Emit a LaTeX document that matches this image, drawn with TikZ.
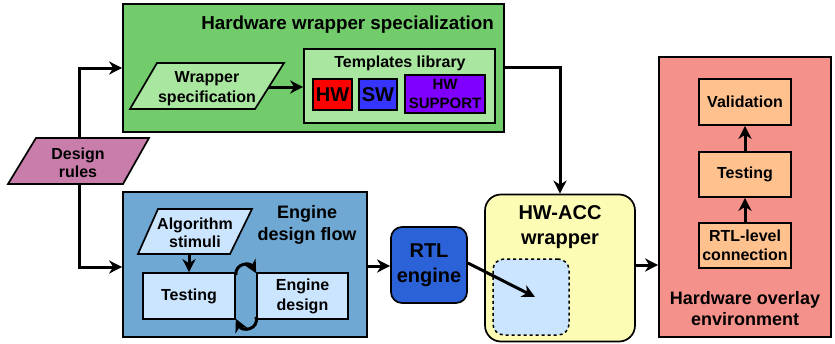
\documentclass[tikz,border=0pt]{standalone}
\usepackage{fontspec}
\setmainfont{Liberation Sans}
\usetikzlibrary{arrows.meta}
\definecolor{cgreen}{HTML}{72CC6C}
\definecolor{clgreen}{HTML}{A9E6A0}
\definecolor{cred}{HTML}{FF0000}
\definecolor{cblue}{HTML}{3535FF}
\definecolor{cpurple}{HTML}{7F00FF}
\definecolor{cpink}{HTML}{C97DAB}
\definecolor{csteel}{HTML}{6FA8D3}
\definecolor{cpale}{HTML}{CCE5FF}
\definecolor{crtl}{HTML}{2C62D8}
\definecolor{cyellow}{HTML}{FCFCB4}
\definecolor{csalmon}{HTML}{F4918A}
\definecolor{cpeach}{HTML}{FFC28F}
\tikzset{
  box/.style={draw=black, line width=1.7pt, inner sep=0pt, align=center,
    font=\bfseries\fontsize{16}{19}\selectfont},
  lbl/.style={inner sep=0pt, align=center, font=\bfseries\fontsize{16}{19}\selectfont},
  arr/.style={line width=3pt, -{Stealth[length=13pt,width=13pt,inset=4pt]}},
  para/.style={draw=black, line width=1.7pt, line join=miter}
}
\begin{document}
\begin{tikzpicture}[x=1pt,y=-1pt]
\useasboundingbox (0,0) rectangle (835,343);

% Hardware wrapper specialization
\node[box, fill=cgreen, minimum width=381pt, minimum height=128pt] (hws) at (313.5,68) {};
\node[lbl, anchor=east, font=\bfseries\fontsize{18.8}{22}\selectfont] (hwst) at (494,24.5) {Hardware wrapper specialization};
\draw[para, fill=clgreen] (130,109) -- (157,63) -- (284,63) -- (255,109) -- cycle;
\node[lbl, font=\bfseries\fontsize{16}{20}\selectfont] (ws) at (207,89) {Wrapper\\specification};
\coordinate (wsE) at (269,87);
\node[box, fill=clgreen, minimum width=191pt, minimum height=74pt] (tlib) at (399.5,86) {};
\node[lbl] (tlibt) at (400,63.5) {Templates library};
\node[box, fill=cred, minimum width=39pt, minimum height=31pt, font=\bfseries\fontsize{20}{24}\selectfont] (hw) at (332.5,94.5) {HW};
\node[box, fill=cblue, minimum width=38pt, minimum height=31pt, font=\bfseries\fontsize{20}{24}\selectfont] (sw) at (378,94.5) {SW};
\node[box, fill=cpurple, minimum width=80pt, minimum height=38pt, font=\bfseries\fontsize{15}{19}\selectfont] (hwsup) at (445,94) {HW\\SUPPORT};

% Design rules
\draw[para, fill=cpink] (8,184) -- (36,138) -- (149,138) -- (123,184) -- cycle;
\node[lbl, font=\bfseries\fontsize{16}{18}\selectfont] (dr) at (78,163) {Design\\rules};
\coordinate (drN) at (79,138);
\coordinate (drS) at (79,184);

% Engine design flow
\node[box, fill=csteel, minimum width=244pt, minimum height=145pt] (eng) at (245,264.5) {};
\node[lbl, font=\bfseries\fontsize{18}{22}\selectfont] (engt) at (307,224.5) {Engine\\design flow};
\draw[para, fill=cpale] (138,254) -- (158,209) -- (252,209) -- (230,254) -- cycle;
\node[lbl, font=\bfseries\fontsize{16}{18}\selectfont] (alg) at (195,232.5) {Algorithm\\stimuli};
\coordinate (algS) at (189,254);
\node[box, fill=cpale, minimum width=92pt, minimum height=46pt] (test) at (189,296) {Testing};
\node[box, fill=cpale, minimum width=91pt, minimum height=46pt, font=\bfseries\fontsize{16}{20}\selectfont] (edes) at (302.5,296) {Engine\\design};

% RTL engine
\node[box, fill=crtl, rounded corners=11pt, minimum width=76pt, minimum height=76pt, font=\bfseries\fontsize{20}{25}\selectfont] (rtl) at (429,265) {RTL\\engine};

% HW-ACC wrapper
\node[box, fill=cyellow, rounded corners=16pt, minimum width=150pt, minimum height=147pt] (acc) at (560,268) {};
\node[lbl, font=\bfseries\fontsize{20}{25}\selectfont] (acct) at (560,227.5) {HW-ACC\\wrapper};
\node[box, dashed, line width=1.5pt, fill=cpale, rounded corners=11pt, minimum width=76pt, minimum height=76pt] (inner) at (531,297) {};

% Hardware overlay environment
\node[box, fill=csalmon, minimum width=172pt, minimum height=280pt] (ovl) at (745,197) {};
\node[lbl, font=\bfseries\fontsize{18}{21}\selectfont] (ovlt) at (745,309) {Hardware overlay\\environment};
\node[box, fill=cpeach, minimum width=92pt, minimum height=46pt] (val) at (745,102) {Validation};
\node[box, fill=cpeach, minimum width=92pt, minimum height=45pt] (test2) at (745,174.5) {Testing};
\node[box, fill=cpeach, minimum width=92pt, minimum height=45pt] (rtll) at (745,245.5) {RTL-level\\connection};

% connectors
\draw[arr] (wsE) -- (wsE -| tlib.west);
\draw[arr] (drN) -- (drN |- hws.west) -- (hws.west);
\draw[arr] (drS) -- (79,267) -- (eng.west |- 0,267);
\draw[arr] (algS) -- (algS |- test.north);
\draw[arr] ([yshift=-3pt]test.north east) .. controls (235,263) and (250,262) .. ([yshift=-1pt]edes.north west);
\draw[arr] ([yshift=3pt]edes.south west) .. controls (259,330) and (242,332) .. ([yshift=1pt]test.south east);
\draw[arr] (eng.east |- 0,266) -- (rtl.west |- 0,266);
\draw[arr] ([yshift=2pt]rtl.east) -- ([xshift=4pt]inner.center);
\draw[arr] (hws.east |- 0,67) -- (acc.north |- 0,67) -- (acc.north);
\draw[arr] (acc.east |- 0,265) -- (ovl.west |- 0,265);
\draw[arr] (rtll.north) -- (test2.south);
\draw[arr] (test2.north) -- (val.south);
\end{tikzpicture}
\end{document}
